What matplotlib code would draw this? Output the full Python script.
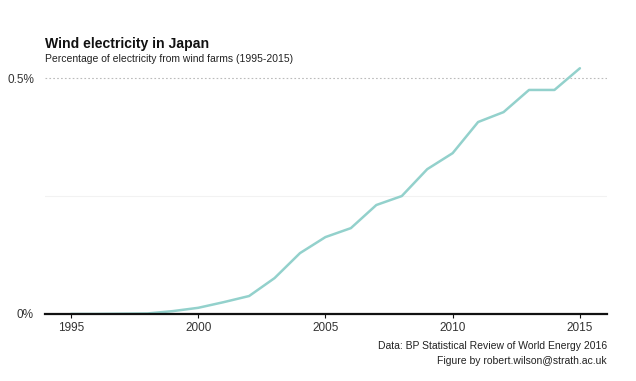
import numpy as np
import matplotlib.pyplot as plt
from matplotlib.ticker import FuncFormatter

plt.rcParams['font.family'] = ['Liberation Sans', 'DejaVu Sans']

years = [1995, 1996, 1997, 1998, 1999, 2000, 2001, 2002, 2003, 2004, 2005,
         2006, 2007, 2008, 2009, 2010, 2011, 2012, 2013, 2014, 2015]
wind_share = [0.0, 0.0, 0.0005, 0.001, 0.006, 0.013, 0.025, 0.038, 0.076, 0.129, 0.163,
              0.182, 0.231, 0.25, 0.307, 0.341, 0.407, 0.428, 0.475, 0.475, 0.521]
xticks = [1995, 2000, 2005, 2010, 2015]
yticks = [0, 0.5]

fig = plt.figure(figsize=(6.36, 3.81), dpi=100)
ax = fig.add_axes([0.0708, 0.176, 0.883, 0.656])

ax.plot(years, wind_share, color='#93d1cc', lw=1.8, solid_capstyle='round', zorder=3)

ax.set_xlim(1993.98, 2016.05)
ax.set_ylim(0, 0.53)
ax.set_xticks(xticks)
ax.set_yticks(yticks)
ax.yaxis.set_major_formatter(FuncFormatter(lambda v, p: '0%' if v == 0 else f'{v:g}%'))

# grid lines
ax.axhline(0.5, color='#bbbbbb', lw=0.8, ls=(0, (1.5, 2)), zorder=1)
ax.axhline(0.25, color='#f2f2f2', lw=0.8, zorder=1)

for s in ['top', 'right', 'left']:
    ax.spines[s].set_visible(False)
ax.spines['bottom'].set_linewidth(1.6)
ax.spines['bottom'].set_color('#111111')
ax.spines['bottom'].set_zorder(4)
ax.tick_params(axis='y', length=0, labelsize=8.5, colors='#333333', pad=8)
ax.tick_params(axis='x', length=3, width=0.8, labelsize=8.5, colors='#111111',
               labelcolor='#333333', pad=3)

fig.text(0.0708, 0.873, 'Wind electricity in Japan', fontsize=10.1, fontweight='bold', color='#111111')
fig.text(0.0708, 0.837, 'Percentage of electricity from wind farms (1995-2015)', fontsize=7.5, color='#222222')
fig.text(0.954, 0.085, 'Data: BP Statistical Review of World Energy 2016', fontsize=7.5,
         ha='right', color='#222222')
fig.text(0.954, 0.045, 'Figure by robert.wilson@strath.ac.uk', fontsize=7.5,
         ha='right', color='#222222')

fig.savefig('out.png', dpi=100, facecolor='white')
